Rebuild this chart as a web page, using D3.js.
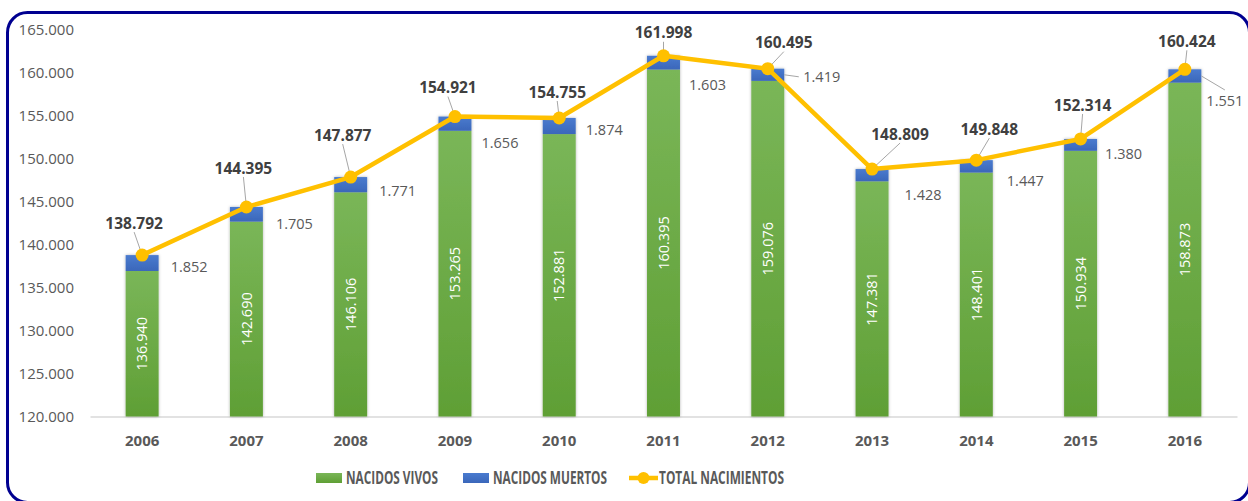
<!DOCTYPE html>
<html>
<head>
<meta charset="utf-8">
<script src="https://cdn.jsdelivr.net/npm/d3@7"></script>
<style>
  body { margin: 0; background: #fff; }
  svg { display: block; }
  text { font-family: "Open Sans", "Noto Sans", sans-serif; }
</style>
</head>
<body>
<svg id="chart" width="1248" height="501"></svg>
<script>
// Births per year: live births, stillbirths and their total
const years = ["2006", "2007", "2008", "2009", "2010", "2011", "2012", "2013", "2014", "2015", "2016"];
const nacidosVivos = [136940, 142690, 146106, 153265, 152881, 160395, 159076, 147381, 148401, 150934, 158873];
const nacidosMuertos = [1852, 1705, 1771, 1656, 1874, 1603, 1419, 1428, 1447, 1380, 1551];
const totalNacimientos = [138792, 144395, 147877, 154921, 154755, 161998, 160495, 148809, 149848, 152314, 160424];
const yTicks = [120000, 125000, 130000, 135000, 140000, 145000, 150000, 155000, 160000, 165000];
const seriesNames = ["NACIDOS VIVOS", "NACIDOS MUERTOS", "TOTAL NACIMIENTOS"];

// Hand-placed label offsets (px) relative to the default anchor
const totalLabelNudge = [[-8,-32],[-3,-39],[-8,-42],[-7,-29],[-2,-26],[0,-23],[16,-26],[28,-35],[13,-31],[2,-34],[2,-28]];
const muertosLabelNudge = [[47,4],[48,9],[47,6],[45,19],[45,4],[44,22],[54,2],[51,20],[49,14],[43,9],[40,25]];
const muertosLeader = [false,false,false,false,false,false,true,false,false,false,true];

const colors = { vivos: "#70ad47", muertos: "#4472c4", total: "#ffc000" };
const fmt = d3.formatLocale({ decimal: ",", thousands: ".", grouping: [3], currency: ["", "€"] }).format(",d");

const svg = d3.select("#chart");
const defs = svg.append("defs");

const gGreen = defs.append("linearGradient").attr("id", "gradVivos").attr("x1", 0).attr("y1", 0).attr("x2", 0).attr("y2", 1);
gGreen.append("stop").attr("offset", "0%").attr("stop-color", "#7ab658");
gGreen.append("stop").attr("offset", "100%").attr("stop-color", "#5f9f35");
const gBlue = defs.append("linearGradient").attr("id", "gradMuertos").attr("x1", 0).attr("y1", 0).attr("x2", 0).attr("y2", 1);
gBlue.append("stop").attr("offset", "0%").attr("stop-color", "#4a7bcf");
gBlue.append("stop").attr("offset", "100%").attr("stop-color", "#3b67ba");

const shadow = defs.append("filter").attr("id", "barShadow").attr("x", "-30%").attr("y", "-5%").attr("width", "160%").attr("height", "110%");
shadow.append("feDropShadow").attr("dx", 0).attr("dy", 0).attr("stdDeviation", 1.4)
  .attr("flood-color", "#000").attr("flood-opacity", 0.3);

// Rounded frame
svg.append("rect")
  .attr("x", 7.5).attr("y", 12.5).attr("width", 1242).attr("height", 490)
  .attr("rx", 20).attr("ry", 20)
  .attr("fill", "none").attr("stroke", "#000090").attr("stroke-width", 3);

const x = d3.scaleBand().domain(years).range([90, 1237]).paddingInner(0.684).paddingOuter(0.342);
const y = d3.scaleLinear().domain([120000, 165000]).range([416.5, 30]);

// Axes
const yAxis = svg.append("g").attr("transform", "translate(90,0)")
  .call(d3.axisLeft(y).tickValues(yTicks).tickFormat(fmt).tickSize(0).tickPadding(16));
yAxis.select(".domain").remove();
yAxis.selectAll("text").attr("fill", "#595959").style("font-size", "15px").style("font-family", "'Open Sans', sans-serif");

const xAxis = svg.append("g").attr("transform", `translate(0,${y(120000)})`)
  .call(d3.axisBottom(x).tickSize(0).tickSizeOuter(0).tickPadding(19));
xAxis.select(".domain").attr("stroke", "#d9d9d9").attr("stroke-width", 1.5);
xAxis.selectAll("text").attr("fill", "#595959").style("font-size", "15px").style("font-weight", "bold")
  .style("font-family", "'Open Sans', sans-serif");

// Stacked bars
const rows = years.map((yr, i) => ({
  yr, i, vivos: nacidosVivos[i], muertos: nacidosMuertos[i], total: totalNacimientos[i]
}));

const bars = svg.append("g").attr("filter", "url(#barShadow)");
bars.selectAll("rect.vivos").data(rows).join("rect").attr("class", "vivos")
  .attr("x", d => x(d.yr)).attr("width", x.bandwidth())
  .attr("y", d => y(d.vivos)).attr("height", d => y(120000) - y(d.vivos))
  .attr("fill", "url(#gradVivos)");
bars.selectAll("rect.muertos").data(rows).join("rect").attr("class", "muertos")
  .attr("x", d => x(d.yr)).attr("width", x.bandwidth())
  .attr("y", d => y(d.vivos + d.muertos)).attr("height", d => y(d.vivos) - y(d.vivos + d.muertos))
  .attr("fill", "url(#gradMuertos)");

// Live-birth values, rotated inside the green segment
svg.append("g").selectAll("text").data(rows).join("text")
  .attr("transform", d => `translate(${x(d.yr) + x.bandwidth() / 2},${(y(d.vivos) + y(120000)) / 2}) rotate(-90)`)
  .attr("text-anchor", "middle").attr("dy", "0.36em")
  .attr("fill", "#ffffff").style("font-size", "14.5px")
  .text(d => fmt(d.vivos));

// Stillbirth values beside the blue segment
const cx = d => x(d.yr) + x.bandwidth() / 2;
const mLabel = rows.map(d => {
  const segMid = (y(d.vivos) + y(d.vivos + d.muertos)) / 2;
  return { d, segMid, lx: cx(d) + muertosLabelNudge[d.i][0], ly: segMid + muertosLabelNudge[d.i][1] };
});

// Leader from an anchor to the middle of the nearest label edge
function leaderEnd(ax, ay, lx, ly, hw, hh, gap) {
  if (ay < ly - hh) return [lx, ly - hh - gap];
  if (ay > ly + hh) return [lx, ly + hh + gap];
  return ax < lx ? [lx - hw - gap, ly] : [lx + hw + gap, ly];
}

const leaders = svg.append("g").attr("stroke", "#a6a6a6").attr("stroke-width", 1).attr("fill", "none");
mLabel.filter(m => muertosLeader[m.d.i]).forEach(m => {
  const ax = x(m.d.yr) + x.bandwidth();
  const [ex, ey] = leaderEnd(ax, m.segMid, m.lx, m.ly, 19, 7, 4);
  leaders.append("line").attr("x1", ax).attr("y1", m.segMid).attr("x2", ex).attr("y2", ey);
});

svg.append("g").selectAll("text").data(mLabel).join("text")
  .attr("x", m => m.lx).attr("y", m => m.ly).attr("dy", "0.36em")
  .attr("text-anchor", "middle").attr("fill", "#595959").style("font-size", "14.5px")
  .text(m => fmt(m.d.muertos));

// Total line with markers
const tLabel = rows.map(d => ({
  d, px: cx(d), py: y(d.total),
  lx: cx(d) + totalLabelNudge[d.i][0], ly: y(d.total) + totalLabelNudge[d.i][1]
}));
tLabel.forEach(t => {
  const [ex, ey] = leaderEnd(t.px, t.py, t.lx, t.ly, 30, 8, 1);
  leaders.append("line").attr("x1", t.px).attr("y1", t.py).attr("x2", ex).attr("y2", ey);
});

const line = d3.line().x(d => cx(d)).y(d => y(d.total));
svg.append("path").datum(rows).attr("d", line)
  .attr("fill", "none").attr("stroke", colors.total).attr("stroke-width", 4.5)
  .attr("stroke-linejoin", "round");
svg.append("g").selectAll("circle").data(rows).join("circle")
  .attr("cx", d => cx(d)).attr("cy", d => y(d.total)).attr("r", 6.5)
  .attr("fill", colors.total);

svg.append("g").selectAll("text").data(tLabel).join("text")
  .attr("x", t => t.lx).attr("y", t => t.ly).attr("dy", "0.36em")
  .attr("text-anchor", "middle").attr("fill", "#404040")
  .style("font-size", "15.5px").style("font-weight", "bold")
  .text(t => fmt(t.d.total));

// Legend
const legend = svg.append("g").attr("transform", "translate(0,478)");
const legendItems = [
  { name: seriesNames[0], x: 316, kind: "bar", fill: "url(#gradVivos)", w: 92 },
  { name: seriesNames[1], x: 463, kind: "bar", fill: "url(#gradMuertos)", w: 114 },
  { name: seriesNames[2], x: 629, kind: "line", fill: colors.total, w: 125 }
];
legendItems.forEach(it => {
  if (it.kind === "bar") {
    legend.append("rect").attr("x", it.x).attr("y", -5).attr("width", 26).attr("height", 10).attr("fill", it.fill);
  } else {
    legend.append("line").attr("x1", it.x).attr("x2", it.x + 29).attr("y1", 0).attr("y2", 0)
      .attr("stroke", it.fill).attr("stroke-width", 4.5);
    legend.append("circle").attr("cx", it.x + 14.5).attr("cy", 0).attr("r", 6).attr("fill", it.fill);
  }
  legend.append("text").attr("x", it.x + 30).attr("y", 0).attr("dy", "0.36em")
    .attr("fill", "#595959").style("font-size", "17px").style("font-weight", "bold")
    .attr("textLength", it.w).attr("lengthAdjust", "spacingAndGlyphs")
    .text(it.name);
});
</script>
</body>
</html>
